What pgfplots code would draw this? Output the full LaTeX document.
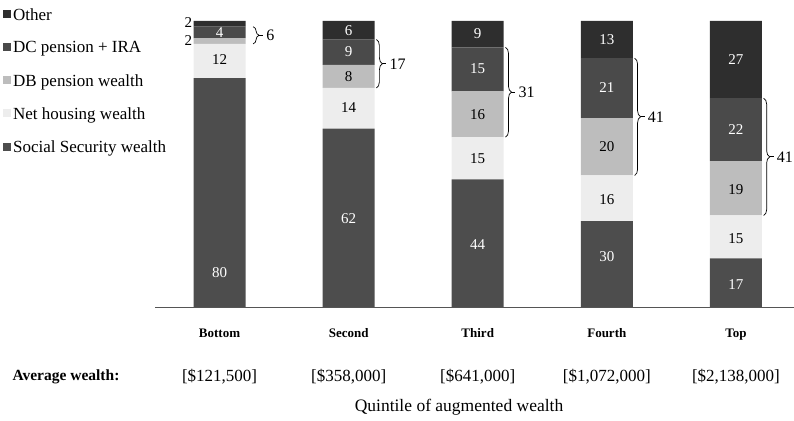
\documentclass[border=0pt]{standalone}
\usepackage{pgfplots}
\pgfplotsset{compat=1.18}
\usepackage{pgfplotstable}
\usepackage{fontspec}
\setmainfont{Liberation Serif}
\usetikzlibrary{decorations.pathreplacing}
\definecolor{cSS}{HTML}{4D4D4D}
\definecolor{cH}{HTML}{EDEDED}
\definecolor{cDB}{HTML}{BDBDBD}
\definecolor{cDC}{HTML}{4A4A4A}
\definecolor{cO}{HTML}{2E2E2E}
\definecolor{axgray}{HTML}{555555}

\pgfplotstableread{
x SS H DB DC O
0 80 12 2 4 2
1 62.4 14.2 8.1 8.8 6.5
2 44.6 14.8 16 15.4 9.2
3 30 16 20 21 13
4 17 15 19 22 27
}\data

% segment label placed in the picture's frame: x index, value, colour, text
\newcommand{\seglbl}[4]{\node[text=#3, inner sep=0pt, font=\fontsize{15}{18}\selectfont] at ({155pt+(#1+0.5)*639pt/4.95}, {113pt+#2*2.86pt}) {#4};}
\newcommand{\sumbrace}[5]{%
  \draw[line width=0.7pt, decorate, decoration={brace, amplitude=6pt}] (axis cs:#1,#2) -- (axis cs:#1,#3);
  \draw[line width=0.7pt] ([xshift=6pt]axis cs:#1,#4) -- ([xshift=10pt]axis cs:#1,#4);
  \node[anchor=west, inner sep=0pt, font=\fontsize{16}{19}\selectfont] at ([xshift=13pt]axis cs:#1,#4) {#5};}

\begin{document}
\begin{tikzpicture}[font=\fontsize{17}{20}\selectfont]
\useasboundingbox (0,0) rectangle (794pt,420pt);
\begin{axis}[
  at={(155pt,113pt)}, anchor=south west,
  scale only axis, width=639pt, height=286pt,
  ybar stacked, bar width=52pt,
  xmin=-0.5, xmax=4.45, ymin=0, ymax=100,
  axis x line=bottom, axis y line=none,
  x axis line style={-, draw=axgray, line width=0.8pt},
  xtick={0,1,2,3,4}, xticklabels={Bottom,Second,Third,Fourth,Top},
  xticklabel style={font=\fontsize{13}{16}\selectfont\bfseries, yshift=-18pt},
  ytick=\empty,
  major tick length=0pt,
  clip=false,
  reverse legend,
  legend cell align=left,
  legend style={at={(axis description cs:-0.238,1.052)}, anchor=north west,
    draw=none, fill=none, row sep=16pt, inner sep=0pt,
    font=\fontsize{17}{20}\selectfont,
    /tikz/every even column/.append style={column sep=1pt}},
  legend image code/.code={\fill[#1,draw=none] (0pt,-3pt) rectangle (8pt,5pt);},
]
\addplot[fill=cSS, draw=none] table[x=x, y=SS]{\data};
\addlegendentry{Social Security wealth}
\addplot[fill=cH, draw=none] table[x=x, y=H]{\data};
\addlegendentry{Net housing wealth}
\addplot[fill=cDB, draw=none] table[x=x, y=DB]{\data};
\addlegendentry{DB pension wealth}
\addplot[fill=cDC, draw=none] table[x=x, y=DC]{\data};
\addlegendentry{DC pension + IRA}
\addplot[fill=cO, draw=none] table[x=x, y=O]{\data};
\addlegendentry{Other}

\node[anchor=east, inner sep=0pt, font=\fontsize{15}{18}\selectfont] at (axis cs:-0.21,99.3) {2};
\node[anchor=east, inner sep=0pt, font=\fontsize{15}{18}\selectfont] at (axis cs:-0.21,93.2) {2};

% braces
\sumbrace{0.26}{98}{92}{95}{6}
\sumbrace{1.215}{93.5}{76.6}{85.05}{17}
\sumbrace{2.215}{90.8}{59.4}{75.1}{31}
\sumbrace{3.215}{87}{46}{66.5}{41}
\sumbrace{4.215}{73}{32}{52.5}{41}

% average wealth
\node at (axis cs:0,0) [yshift=-70pt] {[\$121,500]};
\node at (axis cs:1,0) [yshift=-70pt] {[\$358,000]};
\node at (axis cs:2,0) [yshift=-70pt] {[\$641,000]};
\node at (axis cs:3,0) [yshift=-70pt] {[\$1,072,000]};
\node at (axis cs:4,0) [yshift=-70pt] {[\$2,138,000]};
\end{axis}

% segment labels
\seglbl{0}{12}{white}{80}
\seglbl{0}{86.4}{black}{12}
\seglbl{0}{96.1}{white}{4}

\seglbl{1}{31}{white}{62}
\seglbl{1}{69.6}{black}{14}
\seglbl{1}{80.5}{black}{8}
\seglbl{1}{89.3}{white}{9}
\seglbl{1}{96.8}{white}{6}

\seglbl{2}{21.7}{white}{44}
\seglbl{2}{51.8}{black}{15}
\seglbl{2}{67.2}{black}{16}
\seglbl{2}{83.4}{white}{15}
\seglbl{2}{95.6}{white}{9}

\seglbl{3}{17.5}{white}{30}
\seglbl{3}{37.6}{black}{16}
\seglbl{3}{56}{black}{20}
\seglbl{3}{76.6}{white}{21}
\seglbl{3}{93.4}{white}{13}

\seglbl{4}{7.8}{white}{17}
\seglbl{4}{24}{black}{15}
\seglbl{4}{40.9}{black}{19}
\seglbl{4}{61.9}{white}{22}
\seglbl{4}{86.4}{white}{27}

\node[font=\fontsize{15.5}{18}\selectfont\bfseries] at (66pt,43pt) {Average wealth:};
\node[font=\fontsize{17.5}{20}\selectfont] at (459pt,13pt) {Quintile of augmented wealth};
\end{tikzpicture}
\end{document}
